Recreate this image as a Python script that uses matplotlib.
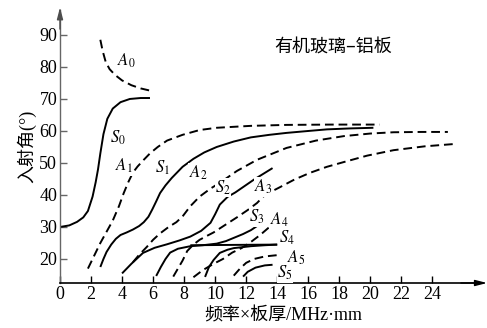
import matplotlib
matplotlib.use("Agg")
import matplotlib.pyplot as plt

plt.rcParams['font.family'] = ['Liberation Serif', 'Noto Sans CJK SC', 'DejaVu Sans']
plt.rcParams['mathtext.fontset'] = 'stix'

# 读图得到的曲线 (频率×板厚, 入射角)
a0_x = [2.6, 2.75, 2.95, 3.2, 3.55, 4.0, 4.6, 5.2, 5.9]
a0_y = [88.5, 85, 81.5, 79.3, 77.5, 75.8, 74.3, 73.3, 72.5]

s0_x = [0, 0.6, 1.1, 1.5, 1.8, 2.1, 2.3, 2.45, 2.6, 2.8, 3.05, 3.4, 3.9, 4.5, 5.2, 5.8]
s0_y = [30, 30.5, 31.6, 33, 35, 39.5, 44, 48, 53, 59, 63.8, 67, 69, 70, 70.3, 70.3]

a1_x = [1.8, 2.2, 2.6, 3.0, 3.4, 3.8, 4.1, 4.4, 4.7, 5.0, 5.4, 5.8, 6.3, 6.9, 7.9, 9.0,
        10.1, 12.3, 14.6, 17.5, 20.6]
a1_y = [17, 21, 25, 28.5, 32, 36.5, 40.5, 44, 47, 48.9, 51, 53, 55, 57, 58.8, 60.3,
        61, 61.6, 61.9, 62, 62]

s1_x = [2.6, 2.8, 3.0, 3.3, 3.6, 3.9, 4.3, 4.7, 5.1, 5.4, 5.7, 5.95, 6.2, 6.45, 6.8, 7.2,
        7.9, 8.6, 9.3, 10.1, 11.2, 12.3, 13.5, 14.6, 16, 17.2, 18.7, 20.2]
s1_y = [17.5, 20, 22.2, 24.5, 26.3, 27.5, 28.3, 29.2, 30.3, 31.5, 33.2, 35.5, 38, 40.6, 43, 45.3,
        48.8, 51.3, 53.3, 55, 56.7, 58, 58.8, 59.4, 60, 60.5, 60.8, 61]

a2_x = [4.7, 5.1, 5.6, 6.0, 6.45, 7.0, 7.5, 7.9, 8.4, 9.0, 9.7, 10.3, 11.4, 12.7, 14.6,
        16.5, 18.3, 20, 21.5, 23.3, 25]
a2_y = [19, 21.3, 23.8, 26, 28, 30, 31.5, 33.3, 36.5, 39.5, 42, 43.8, 47.5, 51, 54.7,
        57, 58.4, 59.2, 59.6, 59.7, 59.7]

s2_x = [4.0, 4.6, 5.35, 6.1, 6.9, 7.7, 8.4, 9.1, 9.7, 10.0, 10.3, 10.8, 11.3, 12.5, 13.7]
s2_y = [15.5, 18.5, 21.9, 23.5, 24.6, 25.8, 27, 28.8, 31.3, 34, 37, 39.4, 40.8, 44.8, 48.4]

a3_x = [7.3, 7.6, 7.9, 8.2, 8.6, 9.0, 9.5, 9.9, 10.6, 11.4, 12.1, 12.7, 13.1, 13.6, 14.2,
        15.1, 16.1, 17.2, 18.3, 19.8, 21.5, 23.5, 25.6]
a3_y = [14.5, 17, 19.5, 22.5, 24.5, 26, 27.3, 28.3, 30.5, 33, 35.3, 37.5, 39.5, 41, 42.5,
        44.8, 46.9, 48.8, 50.3, 52.3, 54, 55.2, 56]

s3_x = [6.2, 6.5, 6.8, 7.1, 7.6, 8.4, 9.2, 10.1, 10.7, 11.2, 11.8, 12.3, 12.7]
s3_y = [14.7, 17.5, 20, 22, 23.2, 24, 24.3, 24.8, 25.6, 26.6, 27.8, 29, 30.3]

s4_x = [9.35, 9.6, 9.9, 10.3, 10.8, 11.2, 12.3, 13.2, 14]
s4_y = [14.4, 17.5, 19.7, 21.9, 22.9, 23.4, 24, 24.3, 24.5]
s4_flat_x = [8.4, 11, 14]
s4_flat_y = [24.3, 24.4, 24.5]

a4_x = [8.6, 9.2, 9.9, 10.5, 11.1, 11.7, 12.3, 12.9, 13.5]
a4_y = [14.3, 16.5, 18.5, 20, 22, 23.4, 25.3, 27.5, 30]

a5_x = [11.2, 11.6, 12.0, 12.5, 13.2, 14.0]
a5_y = [14.8, 17, 18.8, 20, 20.8, 21.2]

s5_x = [11.8, 12.1, 12.6, 13.2, 13.7]
s5_y = [14.5, 16, 17.3, 18, 18.2]

# 曲线标注位置
labels = ['$A_0$', '$S_0$', '$A_1$', '$S_1$', '$A_2$', '$S_2$', '$A_3$',
          '$S_3$', '$A_4$', '$S_4$', '$A_5$', '$S_5$']
label_x = [4.3, 3.75, 4.1, 6.6, 8.9, 10.5, 13.1, 12.7, 14.1, 14.6, 15.2, 14.5]
label_y = [82, 58, 49, 48.4, 46.9, 42.2, 42.5, 33.1, 32.2, 26.6, 20.3, 15.6]

x_ticks = list(range(0, 25, 2))
y_ticks = list(range(20, 91, 10))

fig = plt.figure(figsize=(4.87, 3.28), dpi=100)
ax = fig.add_axes([60 / 487, 45 / 328, 422 / 487, 273 / 328])

dash = (0, (4.5, 2.5))
lw = 1.4
solid = dict(color='k', lw=lw, solid_capstyle='butt')
dashed = dict(color='k', lw=lw, linestyle=dash, dash_capstyle='butt')

ax.plot(a0_x, a0_y, **dashed)
ax.plot(s0_x, s0_y, **solid)
ax.plot(a1_x, a1_y, **dashed)
ax.plot(s1_x, s1_y, **solid)
ax.plot(a2_x, a2_y, **dashed)
ax.plot(s2_x, s2_y, **solid)
ax.plot(a3_x, a3_y, **dashed)
ax.plot(s3_x, s3_y, **solid)
ax.plot(s4_x, s4_y, **solid)
ax.plot(s4_flat_x, s4_flat_y, **solid)
ax.plot(a4_x, a4_y, **dashed)
ax.plot(a5_x, a5_y, **dashed)
ax.plot(s5_x, s5_y, **solid)

for t, lx, ly in zip(labels, label_x, label_y):
    ax.text(lx, ly, t, fontsize=12, ha='center', va='center',
            bbox=dict(facecolor='white', edgecolor='none', pad=0.3))

ax.text(17.6, 86, '有机玻璃–铝板', fontsize=13, ha='center', va='center',
        family=['Noto Sans CJK SC', 'DejaVu Sans'])

ax.set_xlim(0, 27.2)
ax.set_ylim(12.5, 97.8)
ax.set_xticks(x_ticks)
ax.set_yticks(y_ticks)
ax.tick_params(direction='in', length=5, width=1, labelsize=13, pad=2)

ax.spines['top'].set_visible(False)
ax.spines['right'].set_visible(False)
ax.spines['left'].set_color('0.4')
ax.spines['left'].set_linewidth(1.0)
ax.spines['bottom'].set_linewidth(1.2)
ax.tick_params(axis='y', colors='0.4', labelcolor='k')

arrow = dict(arrowstyle='-|>,head_length=0.7,head_width=0.18', color='k', lw=1.0,
             shrinkA=0, shrinkB=0)
ax.annotate('', xy=(1.012, 0), xytext=(0.95, 0), xycoords='axes fraction',
            arrowprops=arrow, annotation_clip=False)
ax.annotate('', xy=(0, 1.01), xytext=(0, 0.93), xycoords='axes fraction',
            arrowprops=dict(arrow, color='0.3'), annotation_clip=False)

ax.set_xlabel('频率×板厚/MHz·mm', fontsize=13)
ax.xaxis.set_label_coords(0.53, -0.09)
ax.set_ylabel('入射角(°)', fontsize=13, labelpad=2)

fig.savefig('out.png', dpi=100)
